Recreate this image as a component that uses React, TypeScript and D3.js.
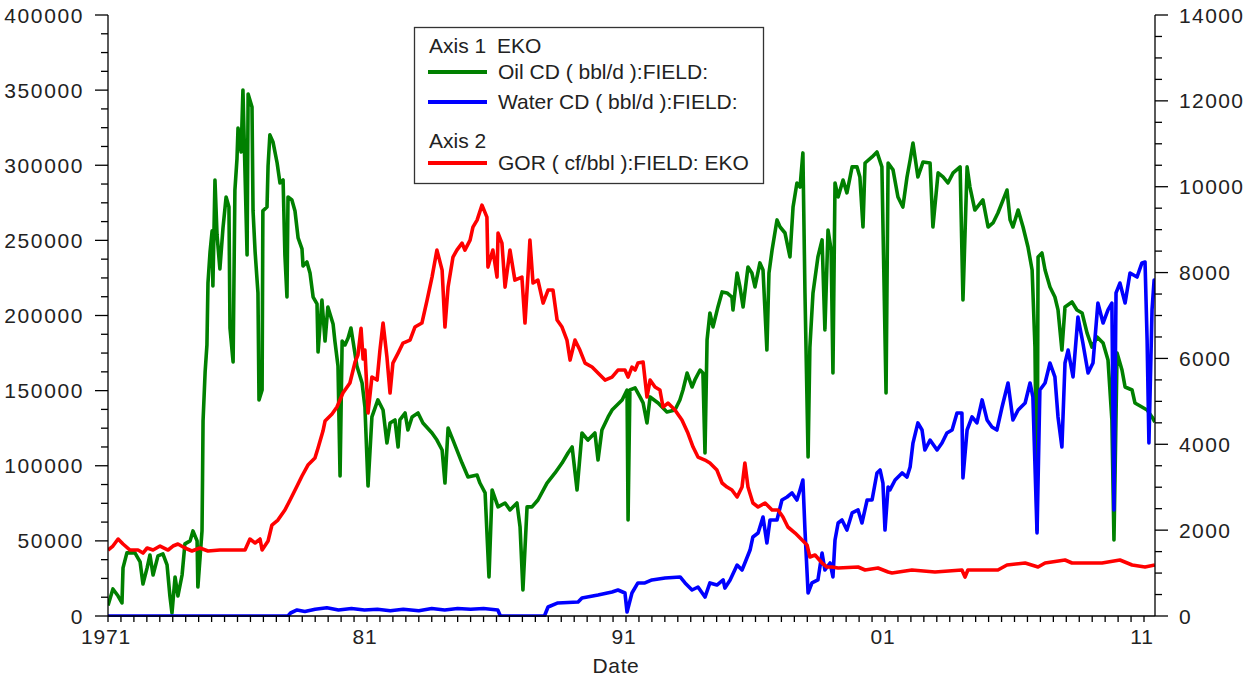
import React from "react";
import * as d3 from "d3";

// ---- Data (decimal year, value) ----
const oilData: [number, number][] = [
  [1971.0, 7000], [1971.19, 18000], [1971.39, 13300], [1971.54, 8700], [1971.58, 32000], [1971.73, 42000],
  [1972.04, 42000], [1972.24, 36000], [1972.35, 21300], [1972.51, 32000], [1972.62, 40600], [1972.74, 27300],
  [1972.93, 40000], [1973.12, 41300], [1973.28, 34000], [1973.39, 13300], [1973.47, 2000], [1973.59, 26000],
  [1973.7, 13300], [1973.86, 27300], [1973.97, 48000], [1974.17, 50000], [1974.28, 56600], [1974.44, 50000],
  [1974.47, 19300], [1974.63, 56600], [1974.65, 91200], [1974.67, 129800], [1974.75, 162400], [1974.82, 180400],
  [1974.86, 221600], [1974.94, 242300], [1975.02, 256300], [1975.05, 219600], [1975.13, 290200], [1975.21, 253600],
  [1975.32, 231000], [1975.44, 258300], [1975.56, 278900], [1975.67, 272200], [1975.71, 191700], [1975.83, 169100],
  [1975.9, 283500], [1975.98, 304200], [1976.02, 324800], [1976.14, 308800], [1976.21, 350100], [1976.37, 240300],
  [1976.41, 347400], [1976.56, 338800], [1976.6, 269600], [1976.68, 242300], [1976.79, 215000], [1976.83, 143800],
  [1976.95, 150400], [1976.98, 269600], [1977.14, 272200], [1977.18, 299500], [1977.25, 320200], [1977.37, 315500],
  [1977.53, 301500], [1977.64, 288200], [1977.76, 290200], [1977.83, 240300], [1977.91, 212300], [1977.95, 278900],
  [1978.1, 276900], [1978.22, 269600], [1978.34, 251600], [1978.49, 244300], [1978.53, 233000], [1978.68, 235600],
  [1978.8, 228300], [1978.92, 212300], [1979.07, 207700], [1979.11, 175700], [1979.26, 210300], [1979.38, 183000],
  [1979.49, 205700], [1979.69, 194400], [1979.76, 183000], [1979.88, 166400], [1979.96, 93200], [1980.04, 183000],
  [1980.15, 180400], [1980.27, 185000], [1980.38, 191700], [1980.46, 183000], [1980.61, 166400], [1980.81, 155100],
  [1980.92, 139100], [1981.04, 86500], [1981.19, 132500], [1981.42, 143800], [1981.62, 137100], [1981.77, 115100],
  [1981.89, 128500], [1982.08, 130500], [1982.2, 112500], [1982.27, 130500], [1982.47, 135100], [1982.58, 123800],
  [1982.74, 132500], [1982.97, 135100], [1983.16, 128500], [1983.51, 121800], [1983.7, 117100], [1983.9, 110500],
  [1984.01, 88500], [1984.13, 125100], [1984.32, 117100], [1984.67, 101800], [1984.9, 92500], [1985.25, 93800],
  [1985.36, 88500], [1985.56, 81900], [1985.71, 26000], [1985.83, 83900], [1986.06, 72600], [1986.33, 75200],
  [1986.52, 70600], [1986.79, 75200], [1986.91, 59200], [1987.02, 17300], [1987.18, 72600], [1987.37, 72600],
  [1987.6, 77200], [1987.95, 88500], [1988.26, 95200], [1988.53, 101800], [1988.76, 108500], [1988.92, 112500],
  [1989.11, 83900], [1989.3, 121800], [1989.53, 117100], [1989.8, 121800], [1989.92, 103800], [1990.07, 123800],
  [1990.31, 132500], [1990.46, 137100], [1990.85, 143800], [1991.04, 150400], [1991.08, 63900], [1991.15, 150400],
  [1991.35, 151800], [1991.54, 145800], [1991.66, 141800], [1991.81, 128500], [1991.93, 145800], [1992.24, 141800],
  [1992.58, 135800], [1992.89, 137100], [1993.08, 143800], [1993.2, 150400], [1993.36, 161700], [1993.55, 152400],
  [1993.66, 157100], [1993.86, 163700], [1993.97, 161700], [1994.05, 108500], [1994.13, 183700], [1994.24, 201700],
  [1994.36, 192400], [1994.55, 205700], [1994.71, 215700], [1994.9, 215000], [1995.09, 212300], [1995.13, 203700],
  [1995.29, 228300], [1995.4, 219000], [1995.52, 205700], [1995.71, 232300], [1995.86, 228300], [1995.98, 219000],
  [1996.17, 235000], [1996.29, 230300], [1996.44, 177000], [1996.52, 228300], [1996.64, 243600], [1996.83, 263600],
  [1996.95, 258900], [1997.14, 254900], [1997.33, 239000], [1997.45, 272200], [1997.6, 288200], [1997.72, 285500],
  [1997.83, 308200], [1997.91, 215000], [1998.03, 105800], [1998.1, 179000], [1998.22, 215000], [1998.41, 239000],
  [1998.57, 250300], [1998.68, 190400], [1998.8, 256900], [1998.92, 243600], [1998.99, 161700], [1999.07, 288200],
  [1999.19, 278900], [1999.38, 290200], [1999.53, 281600], [1999.73, 298900], [1999.92, 298900], [2000.03, 292200],
  [2000.15, 258900], [2000.23, 301500], [2000.5, 305500], [2000.69, 308800], [2000.88, 298900], [2001.04, 148400],
  [2001.12, 301500], [2001.31, 296900], [2001.5, 278900], [2001.69, 272200], [2001.85, 292200], [2001.97, 303500],
  [2002.08, 314800], [2002.27, 292200], [2002.47, 302200], [2002.74, 301500], [2002.85, 258900], [2003.05, 294900],
  [2003.24, 292200], [2003.43, 288200], [2003.63, 294900], [2003.9, 298900], [2004.01, 210300], [2004.17, 298900],
  [2004.28, 285500], [2004.47, 270200], [2004.78, 276900], [2004.98, 258900], [2005.17, 261600], [2005.36, 268200],
  [2005.56, 276900], [2005.71, 283500], [2005.83, 263600], [2005.94, 258900], [2006.14, 270200], [2006.33, 258900],
  [2006.52, 245600], [2006.68, 230300], [2006.79, 179000], [2006.87, 57200], [2006.91, 239000], [2007.06, 241600],
  [2007.18, 230300], [2007.37, 219000], [2007.56, 212300], [2007.68, 203700], [2007.83, 177000], [2007.95, 205700],
  [2008.22, 209000], [2008.41, 203700], [2008.61, 201700], [2008.8, 188400], [2008.99, 179000], [2009.19, 185700],
  [2009.42, 181700], [2009.61, 170400], [2009.76, 130500], [2009.84, 50600], [2009.96, 175000], [2010.15, 163700],
  [2010.27, 152400], [2010.54, 150400], [2010.65, 141800], [2010.92, 139100], [2011.12, 137100], [2011.31, 132500],
  [2011.42, 129000],
];

const waterData: [number, number][] = [
  [1971.0, 0], [1977.95, 0], [1978.05, 2000], [1978.3, 4000], [1978.6, 3000], [1979.0, 4500], [1979.45, 5500],
  [1979.9, 4000], [1980.4, 5000], [1980.9, 4000], [1981.4, 4500], [1981.9, 3500], [1982.4, 4500], [1983.0, 3500],
  [1983.5, 5000], [1984.0, 4000], [1984.5, 5000], [1985.0, 4500], [1985.5, 5000], [1986.05, 4000], [1986.15, 0],
  [1987.85, 0], [1987.99, 6000], [1988.37, 8700], [1989.15, 9300], [1989.3, 12000], [1989.92, 14000],
  [1990.46, 16000], [1990.69, 17300], [1990.96, 15300], [1991.04, 2700], [1991.23, 15300], [1991.46, 22000],
  [1991.73, 22000], [1992.0, 24000], [1992.51, 25300], [1993.09, 26000], [1993.28, 22000], [1993.55, 17300],
  [1993.78, 19300], [1994.05, 12600], [1994.24, 22000], [1994.51, 20600], [1994.75, 24000], [1994.82, 18600],
  [1995.02, 24000], [1995.29, 33900], [1995.48, 30600], [1995.59, 35300], [1995.79, 43900], [1995.9, 52600],
  [1996.1, 55200], [1996.29, 65900], [1996.44, 48600], [1996.56, 63900], [1996.83, 63900], [1997.02, 77200],
  [1997.22, 79200], [1997.41, 81900], [1997.6, 77200], [1997.72, 83900], [1997.83, 90500], [1997.91, 57200],
  [1998.03, 15300], [1998.18, 22000], [1998.41, 24000], [1998.57, 41900], [1998.68, 30600], [1998.88, 35300],
  [1998.99, 26000], [1999.07, 50600], [1999.19, 61900], [1999.34, 63900], [1999.53, 57200], [1999.73, 68600],
  [1999.96, 70600], [2000.11, 61900], [2000.31, 77200], [2000.5, 77200], [2000.69, 95200], [2000.81, 97200],
  [2000.92, 88500], [2001.0, 57200], [2001.12, 85900], [2001.19, 83900], [2001.39, 90500], [2001.66, 95200],
  [2001.85, 92500], [2001.97, 99200], [2002.08, 115100], [2002.27, 128500], [2002.43, 123800], [2002.54, 110500],
  [2002.74, 117100], [2003.01, 110500], [2003.2, 115100], [2003.39, 121800], [2003.59, 123800], [2003.78, 135100],
  [2003.97, 135100], [2004.01, 91900], [2004.17, 123800], [2004.36, 132500], [2004.55, 128500], [2004.75, 143800],
  [2004.94, 130500], [2005.13, 125800], [2005.32, 123800], [2005.52, 139100], [2005.75, 155100], [2005.94, 130500],
  [2006.14, 137100], [2006.41, 141800], [2006.6, 155100], [2006.71, 145800], [2006.87, 55200], [2006.98, 150400],
  [2007.18, 155100], [2007.37, 168400], [2007.56, 159100], [2007.68, 132500], [2007.83, 112500], [2007.95, 168400],
  [2008.07, 177000], [2008.26, 159100], [2008.45, 199000], [2008.64, 181700], [2008.84, 161700], [2009.03, 168400],
  [2009.22, 208300], [2009.42, 195000], [2009.61, 203700], [2009.76, 208300], [2009.84, 70600], [2009.92, 215000],
  [2010.07, 221600], [2010.27, 208300], [2010.46, 228300], [2010.73, 225600], [2010.92, 235000], [2011.04, 235600],
  [2011.12, 183700], [2011.19, 115100], [2011.31, 203700], [2011.39, 223600], [2011.42, 223600],
];

const gorData: [number, number][] = [
  [1971.0, 1537], [1971.19, 1630], [1971.39, 1793], [1971.58, 1677], [1971.85, 1537], [1972.16, 1537],
  [1972.35, 1467], [1972.51, 1584], [1972.74, 1537], [1973.01, 1630], [1973.32, 1537], [1973.51, 1630],
  [1973.7, 1677], [1973.97, 1584], [1974.24, 1514], [1974.55, 1584], [1974.86, 1514], [1975.32, 1537],
  [1976.29, 1537], [1976.48, 1793], [1976.68, 1700], [1976.87, 1793], [1976.95, 1537], [1977.18, 1747],
  [1977.33, 2119], [1977.56, 2236], [1977.83, 2469], [1978.03, 2702], [1978.3, 3028], [1978.49, 3261],
  [1978.72, 3517], [1978.99, 3680], [1979.11, 3913], [1979.3, 4309], [1979.38, 4542], [1979.65, 4705],
  [1979.84, 4868], [1980.07, 5194], [1980.34, 5427], [1980.54, 5916], [1980.65, 6079], [1980.77, 6700],
  [1980.85, 5986], [1980.92, 6195], [1981.04, 4728], [1981.19, 5566], [1981.39, 5496], [1981.5, 6195],
  [1981.62, 6824], [1981.77, 6032], [1981.89, 5194], [1982.0, 5892], [1982.2, 6125], [1982.39, 6358],
  [1982.66, 6428], [1982.85, 6731], [1983.12, 6824], [1983.32, 7360], [1983.51, 7895], [1983.7, 8524],
  [1983.9, 8058], [1984.01, 6731], [1984.13, 7662], [1984.32, 8361], [1984.47, 8524], [1984.67, 8687],
  [1984.78, 8524], [1984.98, 8757], [1985.09, 9060], [1985.25, 9223], [1985.44, 9572], [1985.63, 9293],
  [1985.67, 8128], [1985.86, 8524], [1986.02, 7895], [1986.06, 8920], [1986.21, 8687], [1986.33, 7662],
  [1986.52, 8524], [1986.71, 7825], [1986.98, 7895], [1987.1, 6824], [1987.22, 7988], [1987.29, 8757],
  [1987.41, 7756], [1987.6, 7825], [1987.8, 7290], [1987.99, 7593], [1988.18, 7593], [1988.34, 6894],
  [1988.53, 6731], [1988.72, 6428], [1988.84, 5962], [1989.03, 6428], [1989.22, 6195], [1989.42, 5892],
  [1989.69, 5799], [1989.92, 5659], [1990.19, 5496], [1990.46, 5566], [1990.69, 5729], [1990.96, 5729],
  [1991.08, 5566], [1991.23, 5799], [1991.35, 5729], [1991.46, 5892], [1991.66, 5916], [1991.81, 5101],
  [1991.93, 5496], [1992.12, 5333], [1992.31, 5264], [1992.43, 4868], [1992.62, 4961], [1992.89, 4798],
  [1993.16, 4565], [1993.39, 4262], [1993.59, 3936], [1993.78, 3703], [1994.05, 3633], [1994.24, 3563],
  [1994.51, 3400], [1994.71, 3098], [1994.9, 3004], [1995.09, 2935], [1995.29, 2772], [1995.48, 3004],
  [1995.59, 3563], [1995.71, 3004], [1995.9, 2632], [1996.1, 2539], [1996.37, 2632], [1996.64, 2469],
  [1996.87, 2469], [1997.06, 2306], [1997.25, 2073], [1997.53, 1933], [1997.8, 1770], [1997.99, 1654],
  [1998.1, 1374], [1998.3, 1421], [1998.57, 1234], [1998.76, 1141], [1998.95, 1141], [1999.19, 1118],
  [1999.96, 1141], [2000.23, 1071], [2000.73, 1118], [2001.12, 1025], [2001.27, 1001], [2002.04, 1071],
  [2002.93, 1025], [2003.97, 1071], [2004.09, 908], [2004.2, 1071], [2005.36, 1071], [2005.71, 1188],
  [2006.41, 1234], [2006.91, 1141], [2007.18, 1234], [2007.95, 1304], [2008.22, 1234], [2008.99, 1234],
  [2009.38, 1234], [2010.07, 1304], [2010.54, 1188], [2011.04, 1141], [2011.42, 1188],
];

const leftTicks = [0, 50000, 100000, 150000, 200000, 250000, 300000, 350000, 400000];
const rightTicks = [0, 2000, 4000, 6000, 8000, 10000, 12000, 14000];
const xTickYears = [1971, 1981, 1991, 2001, 2011];
const xTickLabels = ["1971", "81", "91", "01", "11"];

const legendAxis1 = ["Axis 1", "EKO"];
const legendAxis2 = "Axis 2";
const seriesNames = ["Oil CD ( bbl/d ):FIELD:", "Water CD ( bbl/d ):FIELD:", "GOR ( cf/bbl ):FIELD: EKO"];
const seriesColors = ["#008000", "#0000ff", "#ff0000"];

export default function App() {
  const W = 1243, H = 679;
  const L = 108, R = 1155, T = 15, B = 616;
  const x = d3.scaleLinear().domain([1971, 1971 + (R - L) / 25.9]).range([L, R]);
  const yL = d3.scaleLinear().domain([0, 400000]).range([B, T]);
  const yR = d3.scaleLinear().domain([0, 14000]).range([B, T]);

  const lineL = d3.line<[number, number]>().x(d => x(d[0])).y(d => yL(d[1]));
  const lineR = d3.line<[number, number]>().x(d => x(d[0])).y(d => yR(d[1]));

  const font = "Arial, 'Liberation Sans', sans-serif";
  const fs = 21;
  const textCol = "#222";

  const minorL = d3.range(0, 400001, 12500);
  const minorR = d3.range(0, 14001, 500);
  const x1 = x.domain()[1];
  const minorX = d3.range(1971, x1 + 0.001, 0.5);

  return (
    <svg width={W} height={H} style={{ position: "absolute", left: 0, top: 0, background: "#fff" }}
      fontFamily={font}>
      <rect x={0} y={0} width={W} height={H} fill="#fff" />
      <defs>
        <clipPath id="plotclip">
          <rect x={L} y={T - 5} width={R - L} height={B - T + 6} />
        </clipPath>
      </defs>

      <g clipPath="url(#plotclip)" fill="none" strokeWidth={3.6} strokeLinejoin="round">
        <path d={lineL(oilData) || ""} stroke={seriesColors[0]} />
        <path d={lineL(waterData) || ""} stroke={seriesColors[1]} />
        <path d={lineR(gorData) || ""} stroke={seriesColors[2]} />
      </g>

      {/* axes */}
      <g stroke="#000" strokeWidth={1.3}>
        <line x1={L} y1={T} x2={L} y2={B} />
        <line x1={R} y1={T} x2={R} y2={B} />
        <line x1={L} y1={B} x2={R} y2={B} />
        {minorL.map(v => (
          <line key={"ml" + v} x1={L - (v % 50000 === 0 ? 13 : 7)} x2={L} y1={yL(v)} y2={yL(v)} />
        ))}
        {minorR.map(v => (
          <line key={"mr" + v} x1={R} x2={R + (v % 2000 === 0 ? 13 : 7)} y1={yR(v)} y2={yR(v)} />
        ))}
        {minorX.map(v => (
          <line key={"mx" + v} x1={x(v)} x2={x(v)} y1={B} y2={B + 6} />
        ))}
      </g>

      <g fontSize={fs} fill={textCol}>
        {leftTicks.map(v => (
          <text key={"tl" + v} x={L - 24} y={yL(v)} dy="0.36em" textAnchor="end" letterSpacing={1.6}>{v}</text>
        ))}
        {rightTicks.map(v => (
          <text key={"tr" + v} x={R + 24} y={yR(v)} dy="0.36em" textAnchor="start" letterSpacing={1.4}>{v}</text>
        ))}
        {xTickYears.map((v, i) => (
          <text key={"tx" + v} x={x(v) - 2} y={644} textAnchor="middle" letterSpacing={0.8}>{xTickLabels[i]}</text>
        ))}
        <text x={616} y={673} textAnchor="middle" letterSpacing={0.6}>Date</text>
      </g>

      {/* legend */}
      <g fontSize={fs} fill={textCol}>
        <rect x={414.5} y={27.5} width={349} height={156} fill="#fff" stroke="#333" strokeWidth={1.3} />
        <text x={429} y={53}>{legendAxis1[0]}</text>
        <text x={497} y={53}>{legendAxis1[1]}</text>
        <line x1={428} x2={487} y1={72} y2={72} stroke={seriesColors[0]} strokeWidth={4} />
        <text x={498} y={79}>{seriesNames[0]}</text>
        <line x1={428} x2={487} y1={102} y2={102} stroke={seriesColors[1]} strokeWidth={4} />
        <text x={498} y={109}>{seriesNames[1]}</text>
        <text x={429} y={148}>{legendAxis2}</text>
        <line x1={428} x2={487} y1={163} y2={163} stroke={seriesColors[2]} strokeWidth={4} />
        <text x={498} y={170}>{seriesNames[2]}</text>
      </g>
    </svg>
  );
}
